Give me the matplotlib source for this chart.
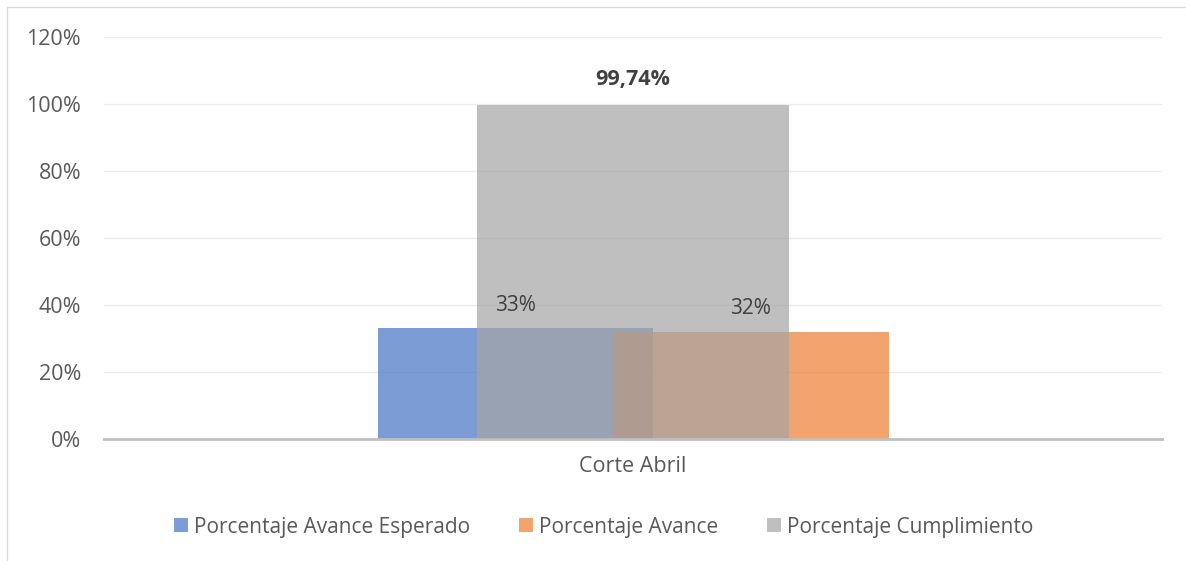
import matplotlib
matplotlib.use("Agg")
import matplotlib.pyplot as plt
from matplotlib.patches import Rectangle
from matplotlib.ticker import FuncFormatter

plt.rcParams['font.family'] = ['Open Sans', 'DejaVu Sans']

categories = ["Corte Abril"]
series_names = ["Porcentaje Avance Esperado", "Porcentaje Avance", "Porcentaje Cumplimiento"]
values = [0.33, 0.32, 0.9974]
labels = ["33%", "32%", "99,74%"]
colors = ["#4472C4", "#ED7D31", "#A5A5A5"]
offsets = [-0.111, 0.1115, 0.0]
widths = [0.26, 0.261, 0.294]
yticks = [0, 0.2, 0.4, 0.6, 0.8, 1.0, 1.2]

W, H = 1186, 561
fig = plt.figure(figsize=(W / 100, H / 100), dpi=100)
ax = fig.add_axes([104 / W, 1 - 439 / H, (1162 - 104) / W, (439 - 37) / H])

handles = []
for i, (name, v, c, off, w) in enumerate(zip(series_names, values, colors, offsets, widths)):
    b = ax.bar(0 + off, v, width=w, color=c, alpha=0.7, zorder=2 + i, label=name)
    handles.append(b)

ax.text(0 + offsets[0], values[0] + 0.069, labels[0], ha='center', va='center',
        fontsize=15, color='#404040', zorder=10)
ax.text(0 + offsets[1], values[1] + 0.069, labels[1], ha='center', va='center',
        fontsize=15, color='#404040', zorder=10)
ax.text(0 + offsets[2], values[2] + 0.076, labels[2], ha='center', va='center',
        fontsize=15.5, fontweight='bold', color='#404040', zorder=10)

ax.set_xlim(-0.5, 0.5)
ax.set_ylim(0, 1.2)
ax.set_yticks(yticks)
ax.yaxis.set_major_formatter(FuncFormatter(lambda v, p: f"{v * 100:.0f}%"))
ax.set_xticks([0])
ax.set_xticklabels(categories)
ax.tick_params(axis='both', length=0, labelsize=15.5, labelcolor='#595959')
ax.tick_params(axis='y', pad=16.5)
ax.tick_params(axis='x', pad=12)
ax.grid(axis='y', color='#ebebeb', linewidth=1, zorder=0)
ax.set_axisbelow(True)
for s in ['top', 'right', 'left']:
    ax.spines[s].set_visible(False)
ax.spines['bottom'].set_color('#bfbfbf')
ax.spines['bottom'].set_linewidth(2)
ax.spines['bottom'].set_zorder(20)

leg = fig.legend(handles=handles, labels=series_names, loc='center',
                 bbox_to_anchor=(604 / W, 1 - 527 / H), ncol=3, frameon=False,
                 fontsize=15, handlelength=0.67, handleheight=0.67,
                 handletextpad=0.29, columnspacing=2.35, labelcolor='#595959')

fig.patches.append(Rectangle((7 / W, -0.01), 1.02, 1 - 7 / H + 0.01, transform=fig.transFigure,
                             fill=False, edgecolor='#d9d9d9', linewidth=1))

fig.savefig("out.png", dpi=100)
